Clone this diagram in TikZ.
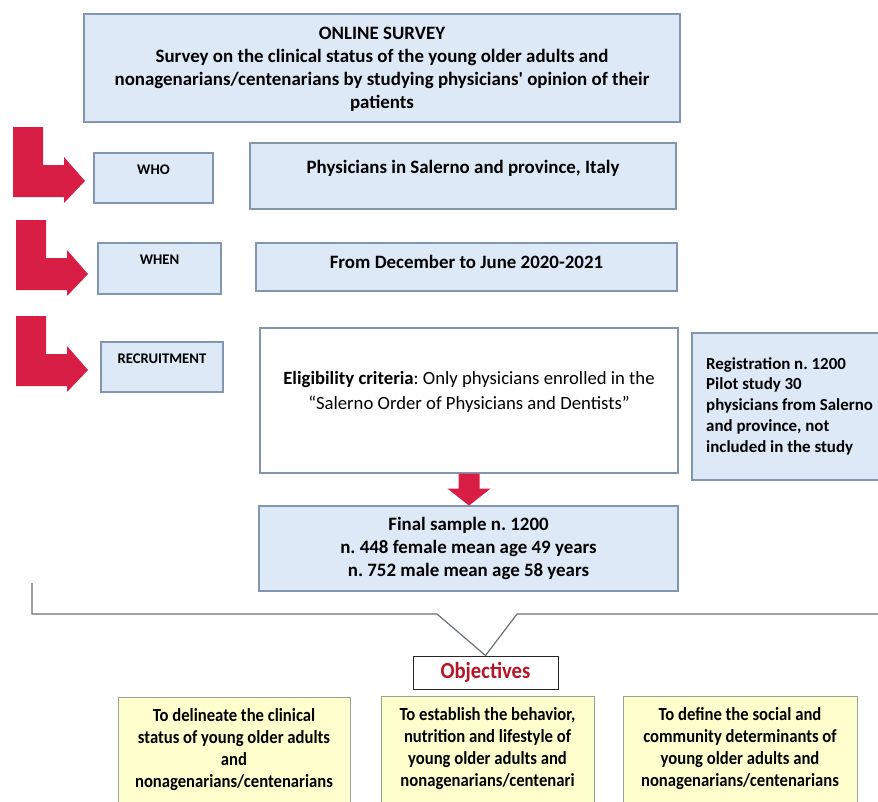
\documentclass[tikz,border=0pt]{standalone}
\usepackage{fontspec}
\setmainfont{Carlito}
\newfontfamily\narrowFont[FakeStretch=0.9]{Carlito}
\usetikzlibrary{positioning,fit}
\frenchspacing
\definecolor{boxFill}{RGB}{221,233,246}
\definecolor{boxLine}{RGB}{130,150,176}
\definecolor{noteFill}{RGB}{255,255,206}
\definecolor{noteLine}{RGB}{150,165,150}
\definecolor{arrowRed}{RGB}{216,30,68}
\definecolor{objRed}{RGB}{185,20,35}
\definecolor{braceColor}{RGB}{105,112,120}
\tikzstyle{flowchart} = [x = 1pt, y = -1pt]
\tikzstyle{blueBox} = [draw=boxLine, fill=boxFill, line width=1.2pt, inner sep=0pt]
\tikzstyle{whiteBox} = [draw=boxLine, fill=white, line width=1.2pt, inner sep=0pt]
\tikzstyle{objBox} = [draw=black!85, fill=white, line width=1pt, inner sep=0pt]
\tikzstyle{noteBox} = [draw=noteLine, fill=noteFill, line width=1pt, inner sep=0pt]
\tikzstyle{mainText} = [font=\fontsize{18.9}{23}\selectfont\bfseries, align=center, inner sep=0pt]
\tikzstyle{eligText} = [font=\fontsize{18.7}{25}\selectfont, align=center, inner sep=0pt]
\tikzstyle{regText} = [font=\fontsize{16.9}{20.7}\selectfont\bfseries, align=left, inner sep=0pt]
\tikzstyle{tagText} = [font=\fontsize{14.7}{16}\selectfont\bfseries, inner sep=0pt]
\tikzstyle{objText} = [font=\narrowFont\fontsize{23}{26}\selectfont\bfseries, text=objRed, inner sep=0pt]
\tikzstyle{noteText} = [font=\narrowFont\fontsize{18.5}{22}\selectfont\bfseries, align=center, inner sep=0pt]
\tikzstyle{braceStyle} = [draw=braceColor, line width=1.2pt]
\tikzstyle{redArrow} = [fill=arrowRed]
% box from (x1,y1) to (x2,y2)
\newcommand{\flowBox}[6]{\node [#1, fit={(#3,#4) (#5,#6)}] (#2) {};}
% bent red arrow, top left corner at (x,y)
\newcommand{\bentArrow}[2]{\fill [redArrow] (#1,#2) -- +(30,0) -- +(30,38) -- +(51,38) -- +(51,30) -- +(72,54) -- +(51,76) -- +(51,70) -- +(0,70) -- cycle;}

\begin{document}
\begin{tikzpicture}[flowchart]
  \useasboundingbox [fill=white] (0,0) rectangle (878,801);

  % survey
  \flowBox{blueBox}{survey}{84}{14}{680}{122}
  \node [mainText] (surveyText) at ([yshift=-1pt]survey.center) {ONLINE SURVEY\\Survey on the clinical status of the young older adults and\\nonagenarians/centenarians by studying physicians\textquotesingle{} opinion of their\\patients};

  % who / when / recruitment
  \bentArrow{13}{127}
  \flowBox{blueBox}{who}{94}{153}{213}{203}
  \node [tagText] (whoText) at ([yshift=-17pt]who.north) {WHO};
  \flowBox{blueBox}{phys}{250}{143}{676}{209}
  \node [mainText] (physText) at ([yshift=-26pt]phys.north) {Physicians in Salerno and province, Italy};

  \bentArrow{16}{220}
  \flowBox{blueBox}{when}{98}{243}{221}{294}
  \node [tagText] (whenText) at ([yshift=-17pt]when.north) {WHEN};
  \flowBox{blueBox}{period}{256}{243}{677}{291}
  \node [mainText] (periodText) at ([yshift=-20pt]period.north) {From December to June 2020-2021};

  \bentArrow{16}{316}
  \flowBox{blueBox}{recruit}{101}{342}{223}{392}
  \node [tagText] (recruitText) at ([yshift=-17pt]recruit.north) {RECRUITMENT};
  \flowBox{whiteBox}{elig}{260}{328}{678}{473}
  \node [eligText] (eligLabel) at ([yshift=-65pt]elig.north) {\textbf{Eligibility criteria}: Only physicians enrolled in the\\“Salerno Order of Physicians and Dentists”};
  \flowBox{blueBox}{reg}{692}{333}{890}{480}
  \node [regText, anchor=west] (regText) at (706,406) {Registration n. 1200\\Pilot study 30\\physicians from Salerno\\and province, not\\included in the study};

  % final sample
  \flowBox{blueBox}{final}{259}{506}{678}{591}
  \node [mainText] (finalText) at (final.center) {Final sample n. 1200\\n. 448 female mean age 49 years\\n. 752 male mean age 58 years};
  \path (elig.south) coordinate (arrowTop);
  \fill [redArrow] (arrowTop) +(-10.5,0) -- +(10.5,0) -- +(10.5,15) -- +(21.5,15) -- +(0,32) -- +(-21.5,15) -- +(-10.5,15) -- cycle;

  % objectives
  \flowBox{objBox}{obj}{413}{656}{558}{689}
  \node [objText] (objLabel) at (obj.center) {Objectives};
  \coordinate (braceLeft) at (32,583);
  \coordinate (braceRight) at (890,614);
  \draw [braceStyle] (braceLeft) -- (32,614) -- (437,614) -- (obj.north) -- (517,614) -- (braceRight);

  \flowBox{noteBox}{aimClinical}{118}{697}{350}{802}
  \node [noteText] (aimClinicalText) at (aimClinical.center) {To delineate the clinical\\status of young older adults\\and\\nonagenarians/centenarians};
  \flowBox{noteBox}{aimLifestyle}{381}{696}{594}{802}
  \node [noteText] (aimLifestyleText) at (aimLifestyle.center) {To establish the behavior,\\nutrition and lifestyle of\\young older adults and\\nonagenarians/centenari};
  \flowBox{noteBox}{aimSocial}{623}{696}{857}{802}
  \node [noteText] (aimSocialText) at (aimSocial.center) {To define the social and\\community determinants of\\young older adults and\\nonagenarians/centenarians};
\end{tikzpicture}
\end{document}
